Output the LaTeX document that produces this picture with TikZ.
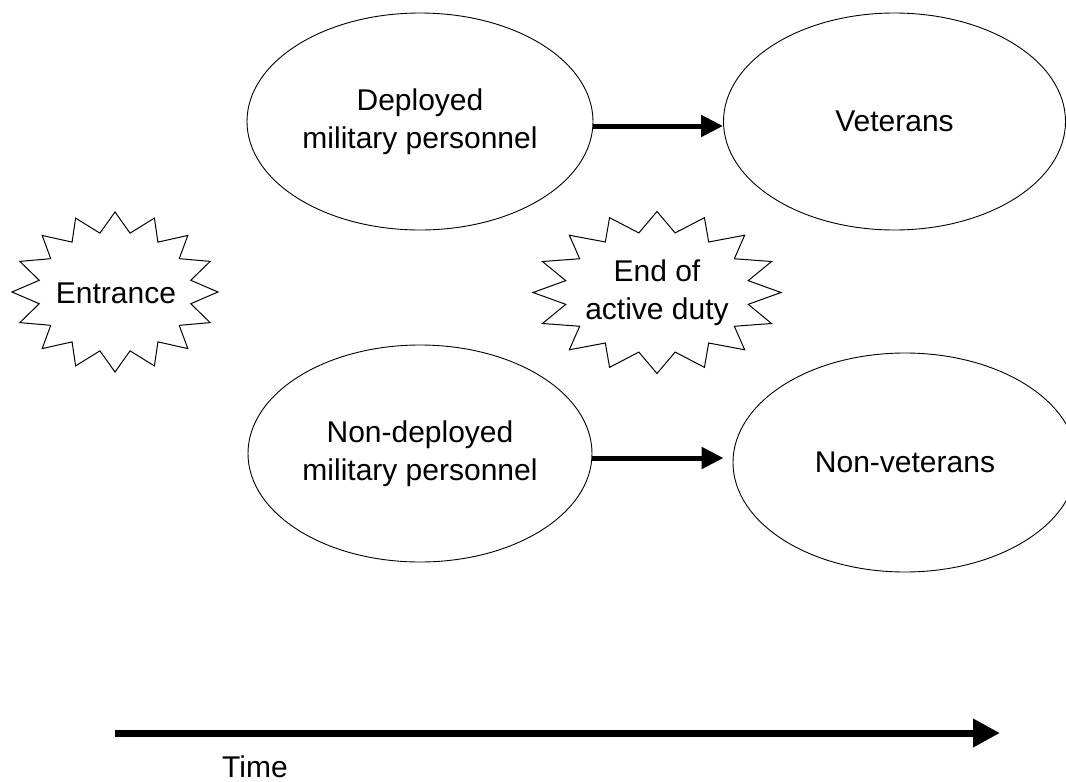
\documentclass[tikz,border=0pt]{standalone}
\usepackage{fontspec}
\setmainfont{Liberation Sans}
\usetikzlibrary{shapes.geometric,arrows.meta}
\tikzset{
  txt/.style={font=\fontsize{30}{38}\selectfont, align=center, inner sep=0pt},
  oval/.style={txt, ellipse, draw, line width=0.9pt, fill=white},
  burstline/.style={draw, line width=1pt, line join=miter},
  link/.style={line width=5pt, -{Triangle[length=22pt,width=21pt]}},
  timeline/.style={line width=7pt, -{Triangle[length=27pt,width=27pt]}}
}
\newcommand\mkburst[4]{%
  \draw[burstline] ({#1+#3},{#2})
    \foreach \k in {1,...,31}{ -- ({#1+#3*(1-0.25*mod(\k,2))*cos(\k*11.25)},{#2+#4*(1-0.25*mod(\k,2))*sin(\k*11.25)}) } -- cycle;}
\begin{document}
\begin{tikzpicture}[x=1pt,y=-1pt]
\useasboundingbox (0,0) rectangle (1066,782);
% ellipses
\node[oval, minimum width=346pt, minimum height=217pt] (dep) at (420,121.5) {Deployed\\military personnel};
\node[oval, minimum width=342pt, minimum height=217pt] (vet) at (894.5,121.5) {Veterans};
\node[oval, minimum width=344pt, minimum height=217pt] (ndep) at (420,453.5) {Non-deployed\\military personnel};
\node[oval, minimum width=344pt, minimum height=219pt] (nvet) at (905,462.5) {Non-veterans};
% bursts
\mkburst{115}{292}{103}{80}
\node[txt] (entr) at (116,293) {Entrance};
\mkburst{657}{292.5}{124}{81}
\node[txt] (end) at (657,293) {End of\\active duty};
% arrows
\draw[link] ([yshift=-4.5pt]dep.east) -- ([yshift=-4.5pt]vet.west);
\draw[link, shorten >=9pt] ([yshift=-4.5pt]ndep.east) -- ([yshift=-4.5pt]ndep.east -| nvet.west);
% time
\coordinate (t0) at (115,733);
\coordinate (t1) at (1000,733);
\draw[timeline] (t0) -- (t1);
\node[txt] (time) at (255,767) {Time};
\end{tikzpicture}
\end{document}
